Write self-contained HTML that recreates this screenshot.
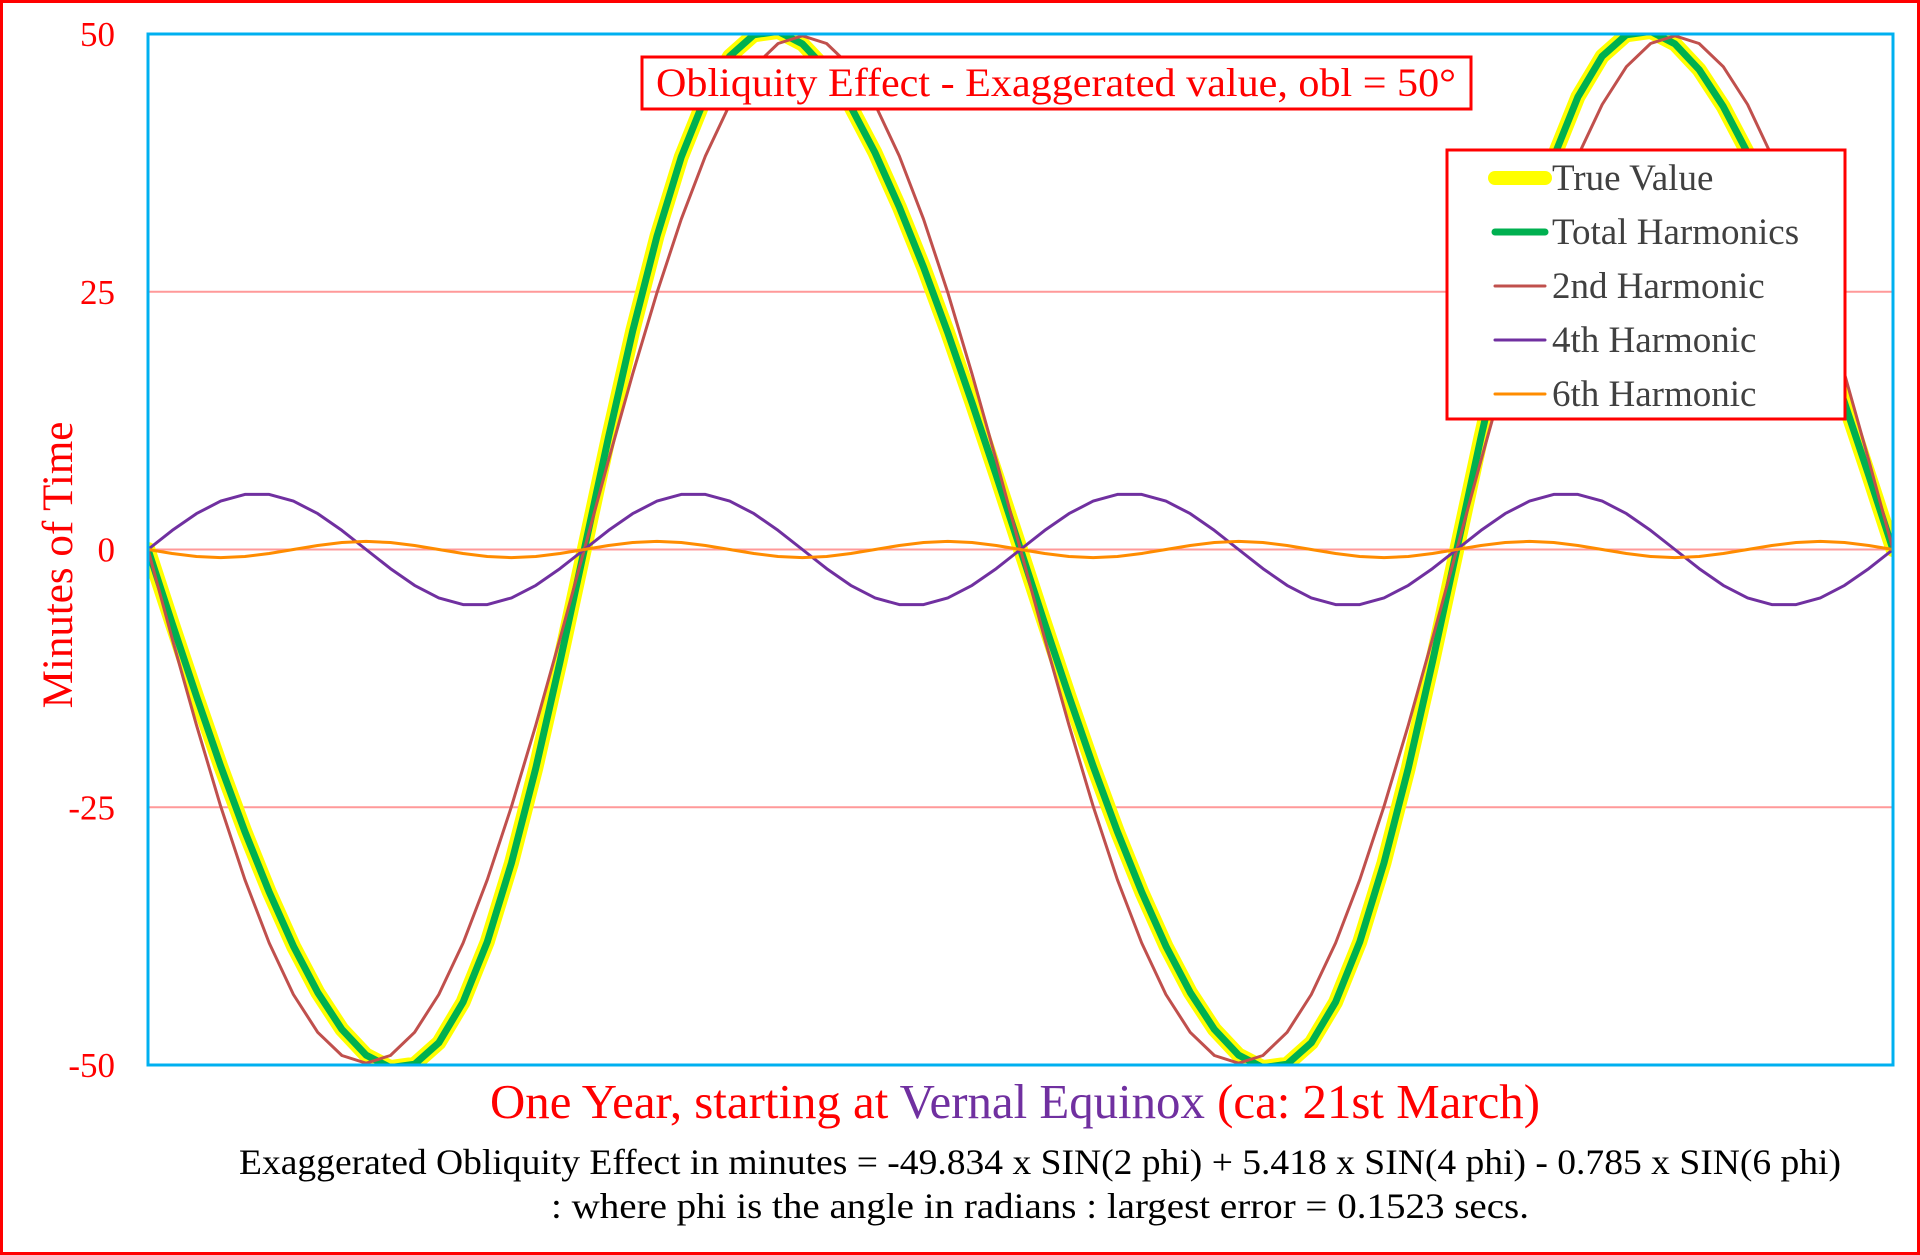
<!DOCTYPE html>
<html><head><meta charset="utf-8"><style>
html,body{margin:0;padding:0;background:#fff;}
svg{display:block;font-family:"Liberation Serif",serif;}
</style></head><body>
<svg id="chart" width="1920" height="1255" viewBox="0 0 1920 1255">
<rect x="1.5" y="1.5" width="1917" height="1252" fill="#fff" stroke="#ff0000" stroke-width="3"/>
<defs><clipPath id="pc"><rect x="148" y="34" width="1745" height="1031"/></clipPath></defs>
<g id="grid"></g>
<g id="ylab"></g>
<g id="series" clip-path="url(#pc)"></g>
<rect x="148" y="34" width="1745" height="1031" fill="none" stroke="#00b0f0" stroke-width="3"/>
<g>
<rect x="642" y="57" width="829" height="52" fill="#fff" stroke="#ff0000" stroke-width="3"/>
<text x="1056" y="96" text-anchor="middle" font-size="40" fill="#ff0000" textLength="800" lengthAdjust="spacingAndGlyphs">Obliquity Effect - Exaggerated value, obl = 50°</text>
</g>
<g>
<rect x="1447" y="150" width="398" height="269" fill="#fff" stroke="#ff0000" stroke-width="3"/>
<g id="legend-items"></g>
</g>
<text transform="translate(72,565) rotate(-90)" text-anchor="middle" font-size="43" fill="#ff0000">Minutes of Time</text>
<text x="1015" y="1118" text-anchor="middle" font-size="49" fill="#ff0000" textLength="1050" lengthAdjust="spacingAndGlyphs">One Year, starting at <tspan fill="#7030a0">Vernal Equinox</tspan> (ca: 21st March)</text>
<text x="1040" y="1174" text-anchor="middle" font-size="36" fill="#000" textLength="1602" lengthAdjust="spacingAndGlyphs">Exaggerated Obliquity Effect in minutes = -49.834 x SIN(2 phi) + 5.418 x SIN(4 phi) - 0.785 x SIN(6 phi)</text>
<text x="1040" y="1218" text-anchor="middle" font-size="36" fill="#000" textLength="978" lengthAdjust="spacingAndGlyphs">: where phi is the angle in radians : largest error = 0.1523 secs.</text>
</svg>
<script>
const degrees=[0,5,10,15,20,25,30,35,40,45,50,55,60,65,70,75,80,85,90,95,100,105,110,115,120,125,130,135,140,145,150,155,160,165,170,175,180,185,190,195,200,205,210,215,220,225,230,235,240,245,250,255,260,265,270,275,280,285,290,295,300,305,310,315,320,325,330,335,340,345,350,355,360];
const trueValue=[0,-7.19,-14.24,-21.02,-27.37,-33.22,-38.47,-42.96,-46.55,-49.04,-50.25,-49.92,-47.85,-43.90,-38.05,-30.40,-21.20,-10.89,0,10.89,21.20,30.40,38.05,43.90,47.85,49.92,50.25,49.04,46.55,42.96,38.47,33.22,27.37,21.02,14.24,7.19,0,-7.19,-14.24,-21.02,-27.37,-33.22,-38.47,-42.96,-46.55,-49.04,-50.25,-49.92,-47.85,-43.90,-38.05,-30.40,-21.20,-10.89,0,10.89,21.20,30.40,38.05,43.90,47.85,49.92,50.25,49.04,46.55,42.96,38.47,33.22,27.37,21.02,14.24,7.19,0];
const totalHarm=[0,-7.19,-14.24,-21.02,-27.37,-33.22,-38.47,-42.96,-46.55,-49.04,-50.25,-49.92,-47.85,-43.90,-38.05,-30.40,-21.20,-10.89,0,10.89,21.20,30.40,38.05,43.90,47.85,49.92,50.25,49.04,46.55,42.96,38.47,33.22,27.37,21.02,14.24,7.19,0,-7.19,-14.24,-21.02,-27.37,-33.22,-38.47,-42.96,-46.55,-49.04,-50.25,-49.92,-47.85,-43.90,-38.05,-30.40,-21.20,-10.89,0,10.89,21.20,30.40,38.05,43.90,47.85,49.92,50.25,49.04,46.55,42.96,38.47,33.22,27.37,21.02,14.24,7.19,0];
const harm2=[0,-8.65,-17.04,-24.92,-32.03,-38.17,-43.16,-46.83,-49.08,-49.83,-49.08,-46.83,-43.16,-38.17,-32.03,-24.92,-17.04,-8.65,0,8.65,17.04,24.92,32.03,38.17,43.16,46.83,49.08,49.83,49.08,46.83,43.16,38.17,32.03,24.92,17.04,8.65,0,-8.65,-17.04,-24.92,-32.03,-38.17,-43.16,-46.83,-49.08,-49.83,-49.08,-46.83,-43.16,-38.17,-32.03,-24.92,-17.04,-8.65,0,8.65,17.04,24.92,32.03,38.17,43.16,46.83,49.08,49.83,49.08,46.83,43.16,38.17,32.03,24.92,17.04,8.65,0];
const harm4=[0,1.85,3.48,4.69,5.34,5.34,4.69,3.48,1.85,0,-1.85,-3.48,-4.69,-5.34,-5.34,-4.69,-3.48,-1.85,0,1.85,3.48,4.69,5.34,5.34,4.69,3.48,1.85,0,-1.85,-3.48,-4.69,-5.34,-5.34,-4.69,-3.48,-1.85,0,1.85,3.48,4.69,5.34,5.34,4.69,3.48,1.85,0,-1.85,-3.48,-4.69,-5.34,-5.34,-4.69,-3.48,-1.85,0,1.85,3.48,4.69,5.34,5.34,4.69,3.48,1.85,0,-1.85,-3.48,-4.69,-5.34,-5.34,-4.69,-3.48,-1.85,0];
const harm6=[0,-0.39,-0.68,-0.79,-0.68,-0.39,0,0.39,0.68,0.79,0.68,0.39,0,-0.39,-0.68,-0.79,-0.68,-0.39,0,0.39,0.68,0.79,0.68,0.39,0,-0.39,-0.68,-0.79,-0.68,-0.39,0,0.39,0.68,0.79,0.68,0.39,0,-0.39,-0.68,-0.79,-0.68,-0.39,0,0.39,0.68,0.79,0.68,0.39,0,-0.39,-0.68,-0.79,-0.68,-0.39,0,0.39,0.68,0.79,0.68,0.39,0,-0.39,-0.68,-0.79,-0.68,-0.39,0,0.39,0.68,0.79,0.68,0.39,0];
const yTicks=[50,25,0,-25,-50];
const legendLabels=["True Value","Total Harmonics","2nd Harmonic","4th Harmonic","6th Harmonic"];

const NS="http://www.w3.org/2000/svg";
const X0=148,X1=1893,Y0=34,Y1=1065;
const xS=d=>X0+(d-0)/(360-0)*(X1-X0);
const yS=v=>Y1-(v+50)/100*(Y1-Y0);
function mk(tag,attrs,parent){const e=document.createElementNS(NS,tag);for(const k in attrs)e.setAttribute(k,attrs[k]);parent.appendChild(e);return e;}

const grid=document.getElementById('grid'),ylab=document.getElementById('ylab');
yTicks.forEach(t=>{
  if(t!==50&&t!==-50){const l=mk('line',{x1:X0,x2:X1,y1:yS(t),y2:yS(t),stroke:'#ff9999','stroke-width':2},grid);
  
  }
  const tx=mk('text',{x:115,y:yS(t)+12,'text-anchor':'end','font-size':35,fill:'#ff0000'},ylab);
  tx.textContent=String(t);
  
  
});

const seriesDefs=[
 {vals:trueValue,color:'#ffff00',w:15,name:'true-value-line'},
 {vals:totalHarm,color:'#00b050',w:7,name:'total-harmonics-line'},
 {vals:harm2,color:'#c0504d',w:3,name:'2nd-harmonic-line'},
 {vals:harm4,color:'#7030a0',w:3,name:'4th-harmonic-line'},
 {vals:harm6,color:'#ff8c00',w:3,name:'6th-harmonic-line'}];
const sg=document.getElementById('series');
seriesDefs.forEach(s=>{
  const pts=s.vals.map((v,i)=>xS(degrees[i]).toFixed(1)+','+yS(v).toFixed(1)).join(' ');
  const p=mk('polyline',{points:pts,fill:'none',stroke:s.color,'stroke-width':s.w,'stroke-linejoin':'round','stroke-linecap':'round'},sg);
  
  
});

const lg=document.getElementById('legend-items');
legendLabels.forEach((lab,i)=>{
  const y=178+i*54,s=seriesDefs[i];
  const g=mk('g',{},lg);
  
  
  mk('line',{x1:1495,x2:1545,y1:y,y2:y,stroke:s.color,'stroke-width':Math.min(s.w,14),'stroke-linecap':'round'},g);
  const t=mk('text',{x:1552,y:y+12,'font-size':37,fill:'#404040'},g);
  t.textContent=lab;
});
</script>
</body></html>
